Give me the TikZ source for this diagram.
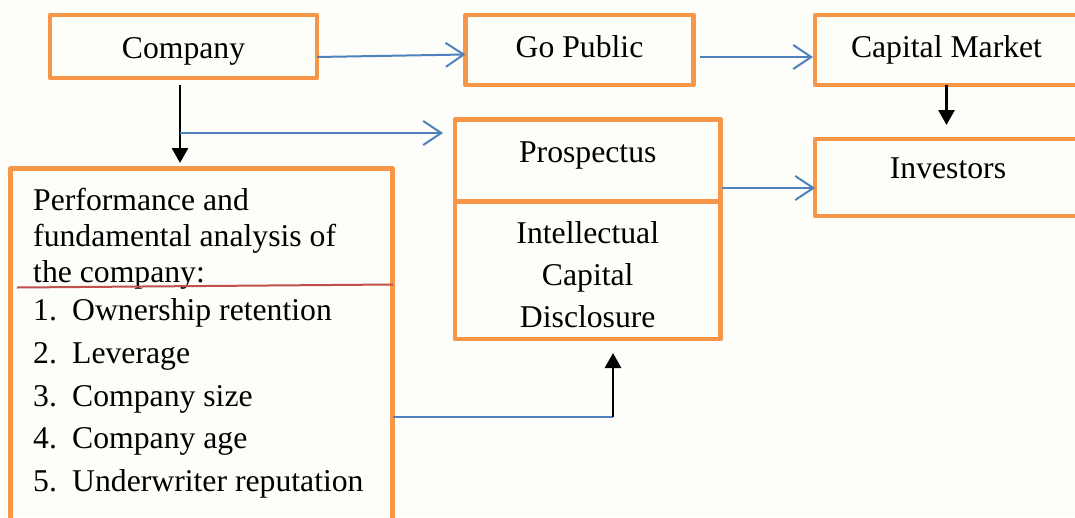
\documentclass[tikz,border=0pt]{standalone}
\usepackage{fontspec}
\setmainfont{Liberation Serif}
\usetikzlibrary{arrows.meta}
\definecolor{boxorange}{HTML}{F79646}
\definecolor{flowblue}{HTML}{4F81BD}
\definecolor{markred}{HTML}{C0504D}
\definecolor{paper}{HTML}{FDFDFA}
\tikzset{
  box/.style={draw=boxorange,line width=4.5pt,inner sep=0pt,outer sep=0pt,
    text height=30pt,line join=round},
  blueline/.style={draw=flowblue,line width=2pt},
  blueflow/.style={blueline,-{Straight Barb[length=18pt,width=24pt]}},
  blackarrow/.style={line width=2.8pt,-{Triangle[length=15pt,width=16pt]}}
}

\begin{document}
\begin{tikzpicture}[x=1pt,y=-1pt,font=\fontsize{31.7pt}{36pt}\selectfont]
\useasboundingbox (0,0) rectangle (1075,517);
\fill[paper] (0,0) rectangle (1075,517);
\clip (0,0) rectangle (1075,517);
% boxes
\node[box,minimum width=267pt,minimum height=63pt,text depth=7pt] (comp) at (183.5,46.5) {Company};
\node[box,minimum width=228pt,minimum height=70pt,text depth=16pt] (gp) at (579.5,50) {Go Public};
\node[box,minimum width=263pt,minimum height=70pt,text depth=16pt] (cm) at (946.5,50) {Capital Market};
\node[box,minimum width=266pt,minimum height=77pt,text depth=29pt] (inv) at (948,177.5) {Investors};
\node[box,minimum width=265.5pt,minimum height=82pt,text depth=27pt] (pros) at (587.75,160.5) {Prospectus};
\node[box,minimum width=265.5pt,minimum height=137.5pt,align=center,text height=,
  font=\fontsize{31.7pt}{42pt}\selectfont] (icd) at (587.75,270.25)
  {\rule{0pt}{30pt}Intellectual\\Capital\\Disclosure};
\node[box,minimum width=382pt,minimum height=370pt] (perf) at (201.5,353.5) {};
\node[anchor=north west,align=left,inner sep=0pt] (perftext) at (33,188.3)
  {Performance and\\fundamental analysis of\\the company:\\[2pt]
   \makebox[39pt][l]{1.}Ownership retention\\[6.6pt]
   \makebox[39pt][l]{2.}Leverage\\[6.6pt]
   \makebox[39pt][l]{3.}Company size\\[6.6pt]
   \makebox[39pt][l]{4.}Company age\\[6.6pt]
   \makebox[39pt][l]{5.}Underwriter reputation};
% red mark
\draw[markred,line width=2pt] (17,287.5) -- (393,284.5);
% connectors
\coordinate (split) at (180,133);
\coordinate (bend) at (613,417);
\draw[blackarrow,shorten <=7pt,shorten >=5.5pt] (comp.south -| split) -- (perf.north -| split);
\draw[blueflow,shorten >=12pt] (split) -- (split -| pros.west);
\draw[blueflow] ([yshift=-10.5pt]comp.east) -- ([yshift=-4.5pt]gp.west);
\draw[blueflow,shorten <=6.5pt,shorten >=2pt] ([yshift=-7pt]gp.east) -- ([yshift=-7pt]cm.west);
\draw[blackarrow,shorten >=14pt] (cm.south) -- (cm.south |- inv.north);
\draw[blueflow,shorten <=1.5pt] ([yshift=-27.5pt]pros.east) -- ([yshift=-27.5pt]pros.east -| inv.west);
\draw[blueline] (bend -| perf.east) -- (bend);
\draw[blackarrow,shorten >=14pt] (bend) -- (bend |- icd.south);
\end{tikzpicture}
\end{document}
